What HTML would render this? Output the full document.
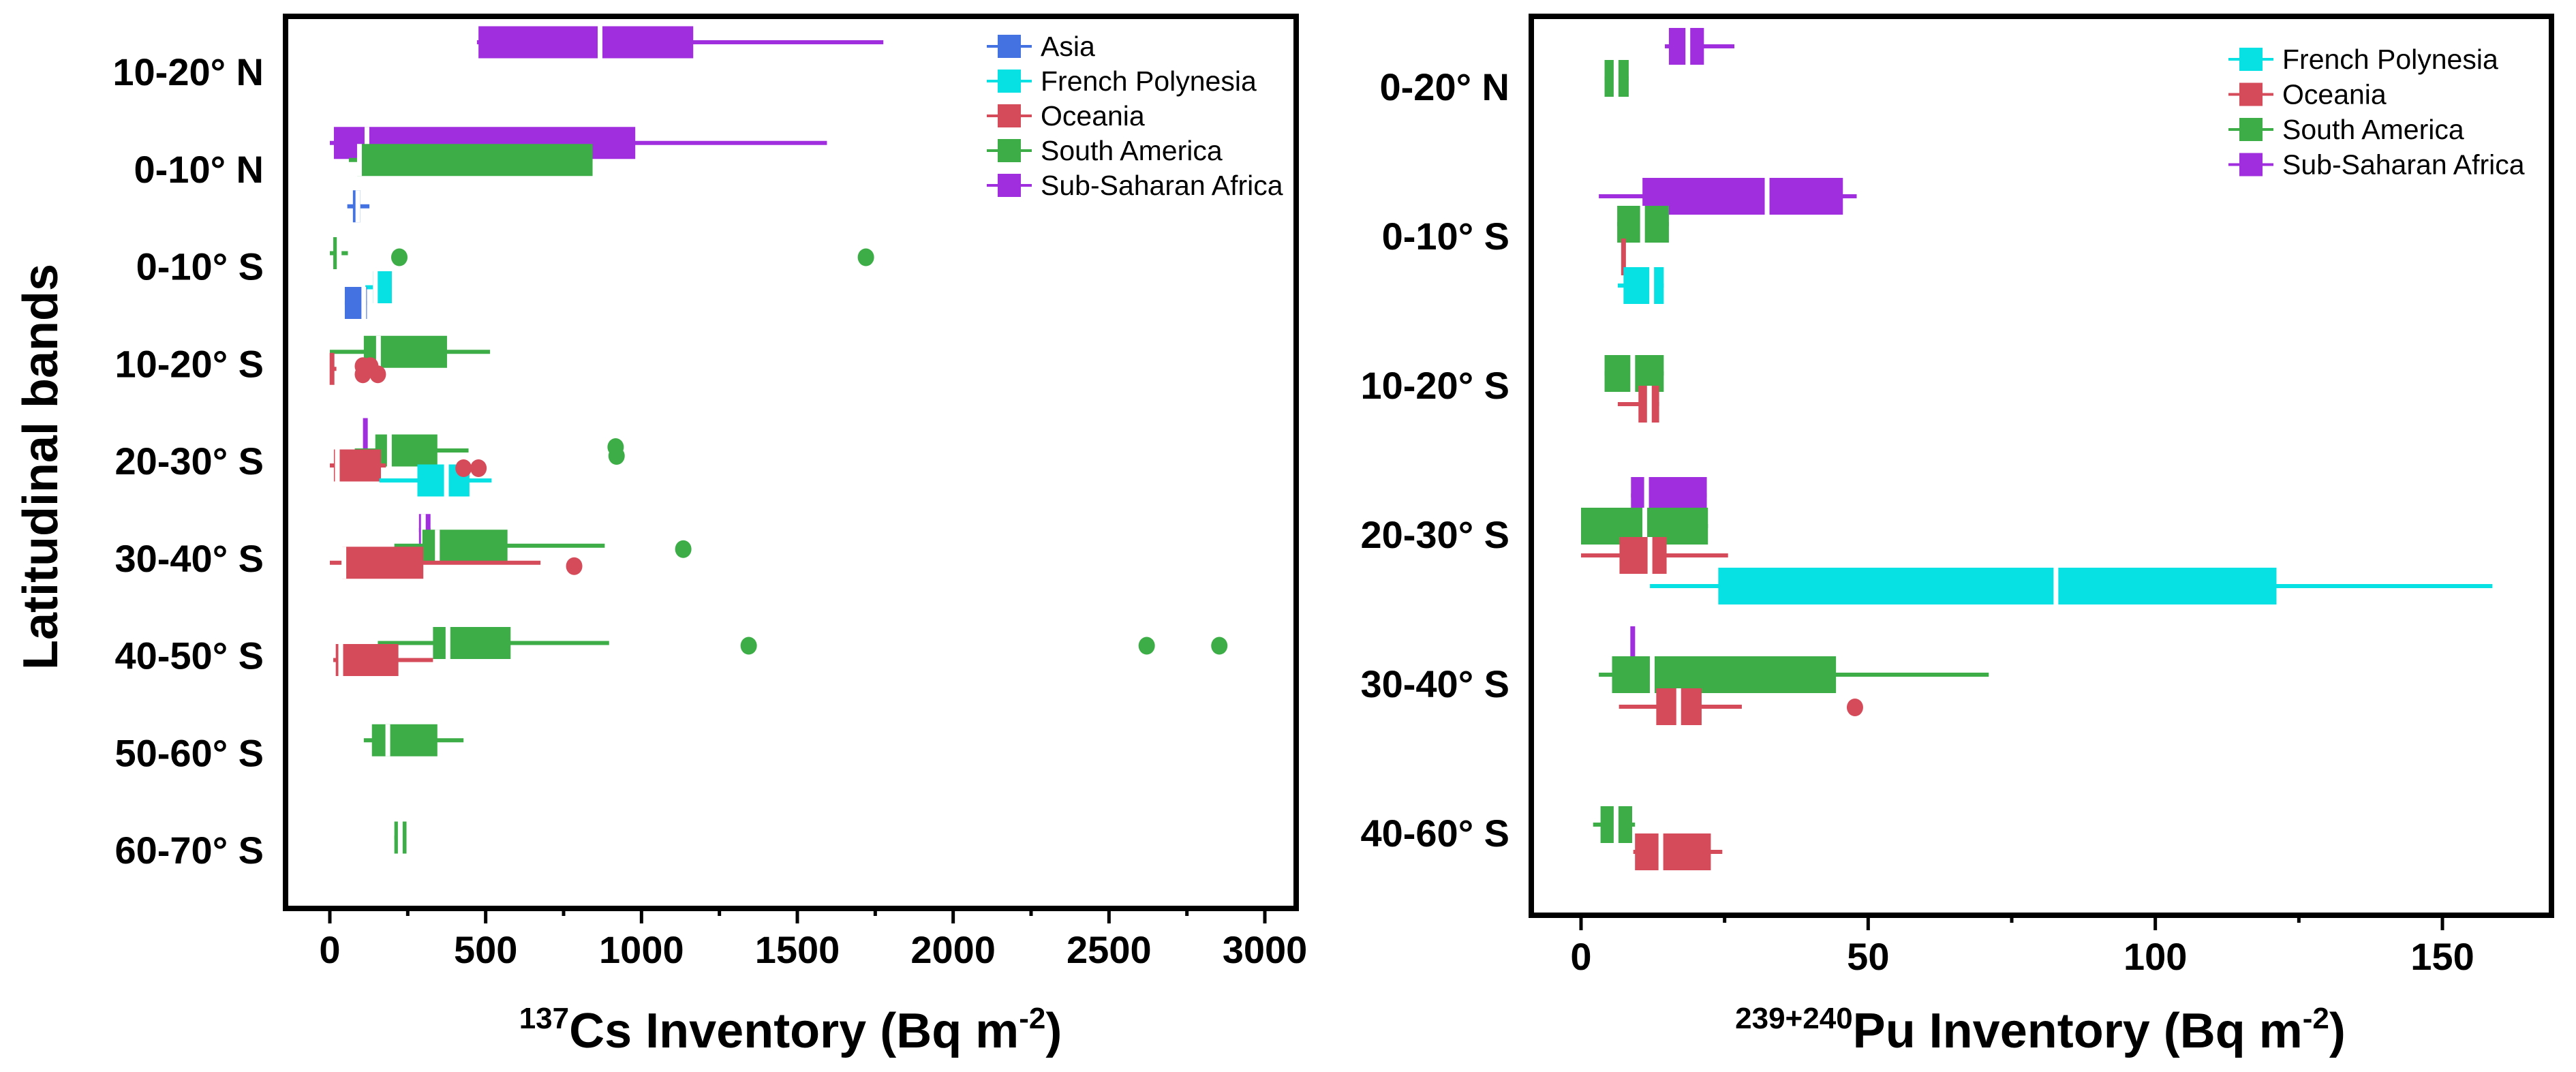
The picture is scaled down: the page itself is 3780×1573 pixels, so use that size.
<!DOCTYPE html>
<html><head><meta charset="utf-8"><style>
html,body{margin:0;padding:0;background:#fff;}
svg{display:block;font-family:"Liberation Sans",sans-serif;}
</style></head><body>
<svg id="chart" width="3780" height="1573" viewBox="0 0 3780 1573" xmlns="http://www.w3.org/2000/svg">
<rect width="3780" height="1573" fill="#fff"/>
<g id="left"></g>
<g id="right"></g>
<text transform="translate(84,685) rotate(-90)" text-anchor="middle" font-size="72" font-weight="bold">Latitudinal bands</text>
<text x="1160" y="1537" text-anchor="middle" font-size="72" font-weight="bold"><tspan font-size="44" dy="-28">137</tspan><tspan dy="28">Cs Inventory (Bq m</tspan><tspan font-size="44" dy="-28">-2</tspan><tspan dy="28">)</tspan></text>
<text x="2994" y="1537" text-anchor="middle" font-size="72" font-weight="bold"><tspan font-size="44" dy="-28">239+240</tspan><tspan dy="28">Pu Inventory (Bq m</tspan><tspan font-size="44" dy="-28">-2</tspan><tspan dy="28">)</tspan></text>
</svg>
<script>
const regions = ["Asia","French Polynesia","Oceania","South America","Sub-Saharan Africa"];
const regionColors = ["#4472E0","#07E1E3","#D64B5A","#3DAE47","#A02DDE"];

const csBands = ["10-20° N","0-10° N","0-10° S","10-20° S","20-30° S","30-40° S","40-50° S","50-60° S","60-70° S"];
const csTicks = [0,500,1000,1500,2000,2500,3000];
const csBand   = [0,1,1,1,2,2,2,3,3,4,4,4,4,5,5,5,6,6,7,8];
const csRegion = [4,4,3,0,3,1,0,3,2,4,3,2,1,4,3,2,3,2,3,3];
const csMin = [472,0,61,56,0,114,48,0,0,112,80,0,159,286,207,0,154,11,109,207];
const csQ1  = [477,13,88,74,11,138,48,109,3,112,146,13,281,286,297,40,331,19,135,207];
const csMed = [867,119,95,90,30,146,109,156,5,114,191,24,374,300,345,45,379,35,186,226];
const csQ3  = [1166,980,843,98,37,199,119,376,11,116,345,164,448,323,570,300,580,220,345,246];
const csMax = [1776,1595,843,127,58,199,119,514,21,116,445,180,519,323,882,676,896,331,429,246];
const csDy  = [-43,-38,-13,55,-19,31,54,-17,8,-39,-15,7,29,-41,-18,7,-18,7,-18,-18];
const csOutVal  = [223,1720,106,130,106,154,917,920,429,477,1134,784,1344,2621,2854];
const csOutBand = [2,2,3,3,3,3,4,4,4,4,5,5,6,6,6];
const csOutReg  = [3,3,2,2,2,2,3,3,2,2,3,2,3,3,3];
const csOutDy   = [-13,-13,4,4,16,16,-20,-7,11,11,-13,12,-14,-14,-14];

const puBands = ["0-20° N","0-10° S","10-20° S","20-30° S","30-40° S","40-60° S"];
const puTicks = [0,50,100,150];
const puBand   = [0,0,1,1,1,1,2,2,3,3,3,3,4,4,4,5,5];
const puRegion = [4,3,4,3,2,1,3,2,4,3,2,1,4,3,2,3,2];
const puMin = [14.6,4.1,3.1,6.3,7.4,6.4,4.1,6.4,8.7,0,0,12,9,3.1,6.6,2.1,9.1];
const puQ1  = [15.3,4.1,10.7,6.3,7.4,7.4,4.1,10,8.7,0,6.7,23.9,9,5.4,13.1,3.4,9.4];
const puMed = [18.6,6.1,32.4,10.7,7.4,12.3,9,11.9,11.4,11.1,12,82.7,9,12.4,17,6.1,13.9];
const puQ3  = [21.4,8.3,45.6,15.3,7.4,14.4,14.4,13.6,21.9,22.1,14.9,121.1,9,44.4,21,8.9,22.6];
const puMax = [26.7,8.3,48,15.3,7.4,14.4,14.4,13.6,21.9,22.1,25.6,158.7,9,71,28,9.4,24.6];
const puDy  = [-59,-12,-58,-17,31,73,-17,28,-57,-12,31,76,-57,-13,34,-12,28];
const puOutVal  = [47.7];
const puOutBand = [4];
const puOutReg  = [2];
const puOutDy   = [35];

const NS = "http://www.w3.org/2000/svg";
function mk(parent, tag, attrs){
  const e = document.createElementNS(NS, tag);
  for (const k in attrs) e.setAttribute(k, attrs[k]);
  parent.appendChild(e);
  return e;
}

function drawPanel(g, cfg){
  const x = v => cfg.x0 + (v - cfg.v0) * cfg.kx;
  const y = i => cfg.y0 + i * cfg.dy;
  // boxes
  for (let i = 0; i < cfg.band.length; i++){
    const col = regionColors[cfg.region[i]];
    const cy = y(cfg.band[i]) + cfg.off[i];
    const grp = mk(g, "g", {});
    
    
    mk(grp, "line", {x1:x(cfg.min[i]), x2:x(cfg.max[i]), y1:cy, y2:cy, stroke:col, "stroke-width":6});
    let l = x(cfg.q1[i]), r = x(cfg.q3[i]);
    if (r - l < 7){ const c=(l+r)/2; l=c-3.5; r=c+3.5; }
    mk(grp, "rect", {x:l, y:cy-cfg.bh/2, width:r-l, height:cfg.bh, fill:col});
    if (x(cfg.q3[i]) - x(cfg.q1[i]) >= 7)
      mk(grp, "line", {x1:x(cfg.med[i]), x2:x(cfg.med[i]), y1:cy-cfg.bh/2, y2:cy+cfg.bh/2, stroke:"#fff", "stroke-width":7});
  }
  for (let i = 0; i < cfg.oVal.length; i++){
    const c = mk(g, "ellipse", {cx:x(cfg.oVal[i]), cy:y(cfg.oBand[i])+cfg.oDy[i], rx:12, ry:13, fill:regionColors[cfg.oReg[i]]});
    
    
  }
  // frame
  const fr = mk(g, "rect", {x:cfg.fx1, y:cfg.fy1, width:cfg.fx2-cfg.fx1, height:cfg.fy2-cfg.fy1, fill:"none", stroke:"#000", "stroke-width":8});
  
  
  // ticks
  for (let i = 0; i < cfg.ticks.length; i++){
    const tx = x(cfg.ticks[i]);
    mk(g, "line", {x1:tx, x2:tx, y1:cfg.fy2, y2:cfg.fy2+22, stroke:"#000", "stroke-width":5});
    const t = mk(g, "text", {x:tx, y:cfg.fy2+80, "text-anchor":"middle", "font-size":56, "font-weight":"bold"});
    t.textContent = cfg.ticks[i];
    
    
    if (i < cfg.ticks.length - 1){
      const mx = x((cfg.ticks[i]+cfg.ticks[i+1])/2);
      mk(g, "line", {x1:mx, x2:mx, y1:cfg.fy2, y2:cfg.fy2+11, stroke:"#000", "stroke-width":5});
    }
  }
  for (let i = 0; i < cfg.bands.length; i++){
    const t = mk(g, "text", {x:cfg.fx1-32, y:y(i)+20, "text-anchor":"end", "font-size":56, "font-weight":"bold"});
    t.textContent = cfg.bands[i];
    
    
  }
  // legend
  cfg.legend.forEach((ri, k) => {
    const ly = cfg.ly + k * cfg.lstep;
    const lg = mk(g, "g", {});
    
    
    mk(lg, "line", {x1:cfg.lx, x2:cfg.lx+66, y1:ly, y2:ly, stroke:regionColors[ri], "stroke-width":4});
    mk(lg, "rect", {x:cfg.lx+16, y:ly-17, width:34, height:34, fill:regionColors[ri]});
    const t = mk(lg, "text", {x:cfg.lx+79, y:ly+14, "font-size":41});
    t.textContent = regions[ri];
  });
}

drawPanel(document.getElementById("left"), {
  x0:484, v0:0, kx:(1856-484)/3000, y0:105, dy:142.75, bh:47,
  fx1:419, fx2:1902, fy1:24, fy2:1333,
  band:csBand, region:csRegion, min:csMin, q1:csQ1, med:csMed, q3:csQ3, max:csMax, off:csDy,
  oVal:csOutVal, oBand:csOutBand, oReg:csOutReg, oDy:csOutDy,
  ticks:csTicks, bands:csBands, legend:[0,1,2,3,4], lx:1448, ly:68, lstep:51
});
drawPanel(document.getElementById("right"), {
  x0:2320, v0:0, kx:(3584-2320)/150, y0:127, dy:219, bh:54,
  fx1:2247, fx2:3744, fy1:24, fy2:1343,
  band:puBand, region:puRegion, min:puMin, q1:puQ1, med:puMed, q3:puQ3, max:puMax, off:puDy,
  oVal:puOutVal, oBand:puOutBand, oReg:puOutReg, oDy:puOutDy,
  ticks:puTicks, bands:puBands, legend:[1,2,3,4], lx:3270, ly:87, lstep:51.5
});
</script>
</body></html>
